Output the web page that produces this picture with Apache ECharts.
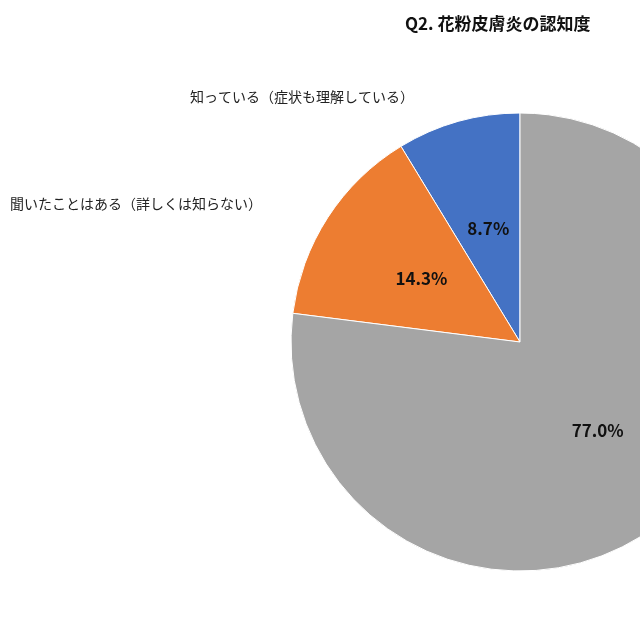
<!DOCTYPE html>
<html><head><meta charset="utf-8">
<script src="https://cdn.jsdelivr.net/npm/echarts@6/dist/echarts.min.js"></script>
<style>html,body{margin:0;background:#fff}#c{width:640px;height:640px}</style>
</head><body><div id="c"></div>
<script>
const categories = ['知っている（症状も理解している）','聞いたことはある（詳しくは知らない）','知らない'];
const values = [8.7, 14.3, 77.0];
const colors = ['#4472C4','#ED7D31','#A5A5A5'];
const title = 'Q2. 花粉皮膚炎の認知度';
const font = '"Noto Sans CJK JP", sans-serif';
const chart = echarts.init(document.getElementById('c'));
chart.setOption({
  animation:false,
  title:{text:title,left:400,top:10,textStyle:{fontFamily:font,fontSize:17,fontWeight:'bold',color:'#111'}},
  graphic:[
    {type:'text',left:190,top:90,style:{text:categories[0],font:'14px '+font,fill:'#222'}},
    {type:'text',left:10,top:197,style:{text:categories[1],font:'14px '+font,fill:'#222'}}
  ],
  series:[{
    type:'pie',center:[520,342],radius:229,startAngle:90,clockwise:false,
    label:{position:'inside',formatter:p=>p.value.toFixed(1)+'%',fontFamily:font,fontSize:17,fontWeight:'bold',color:'#111'},
    labelLine:{show:false},
    itemStyle:{borderColor:'#fff',borderWidth:1},
    data:categories.map((n,i)=>({name:n,value:values[i],itemStyle:{color:colors[i]}}))
  }]
});
</script></body></html>
